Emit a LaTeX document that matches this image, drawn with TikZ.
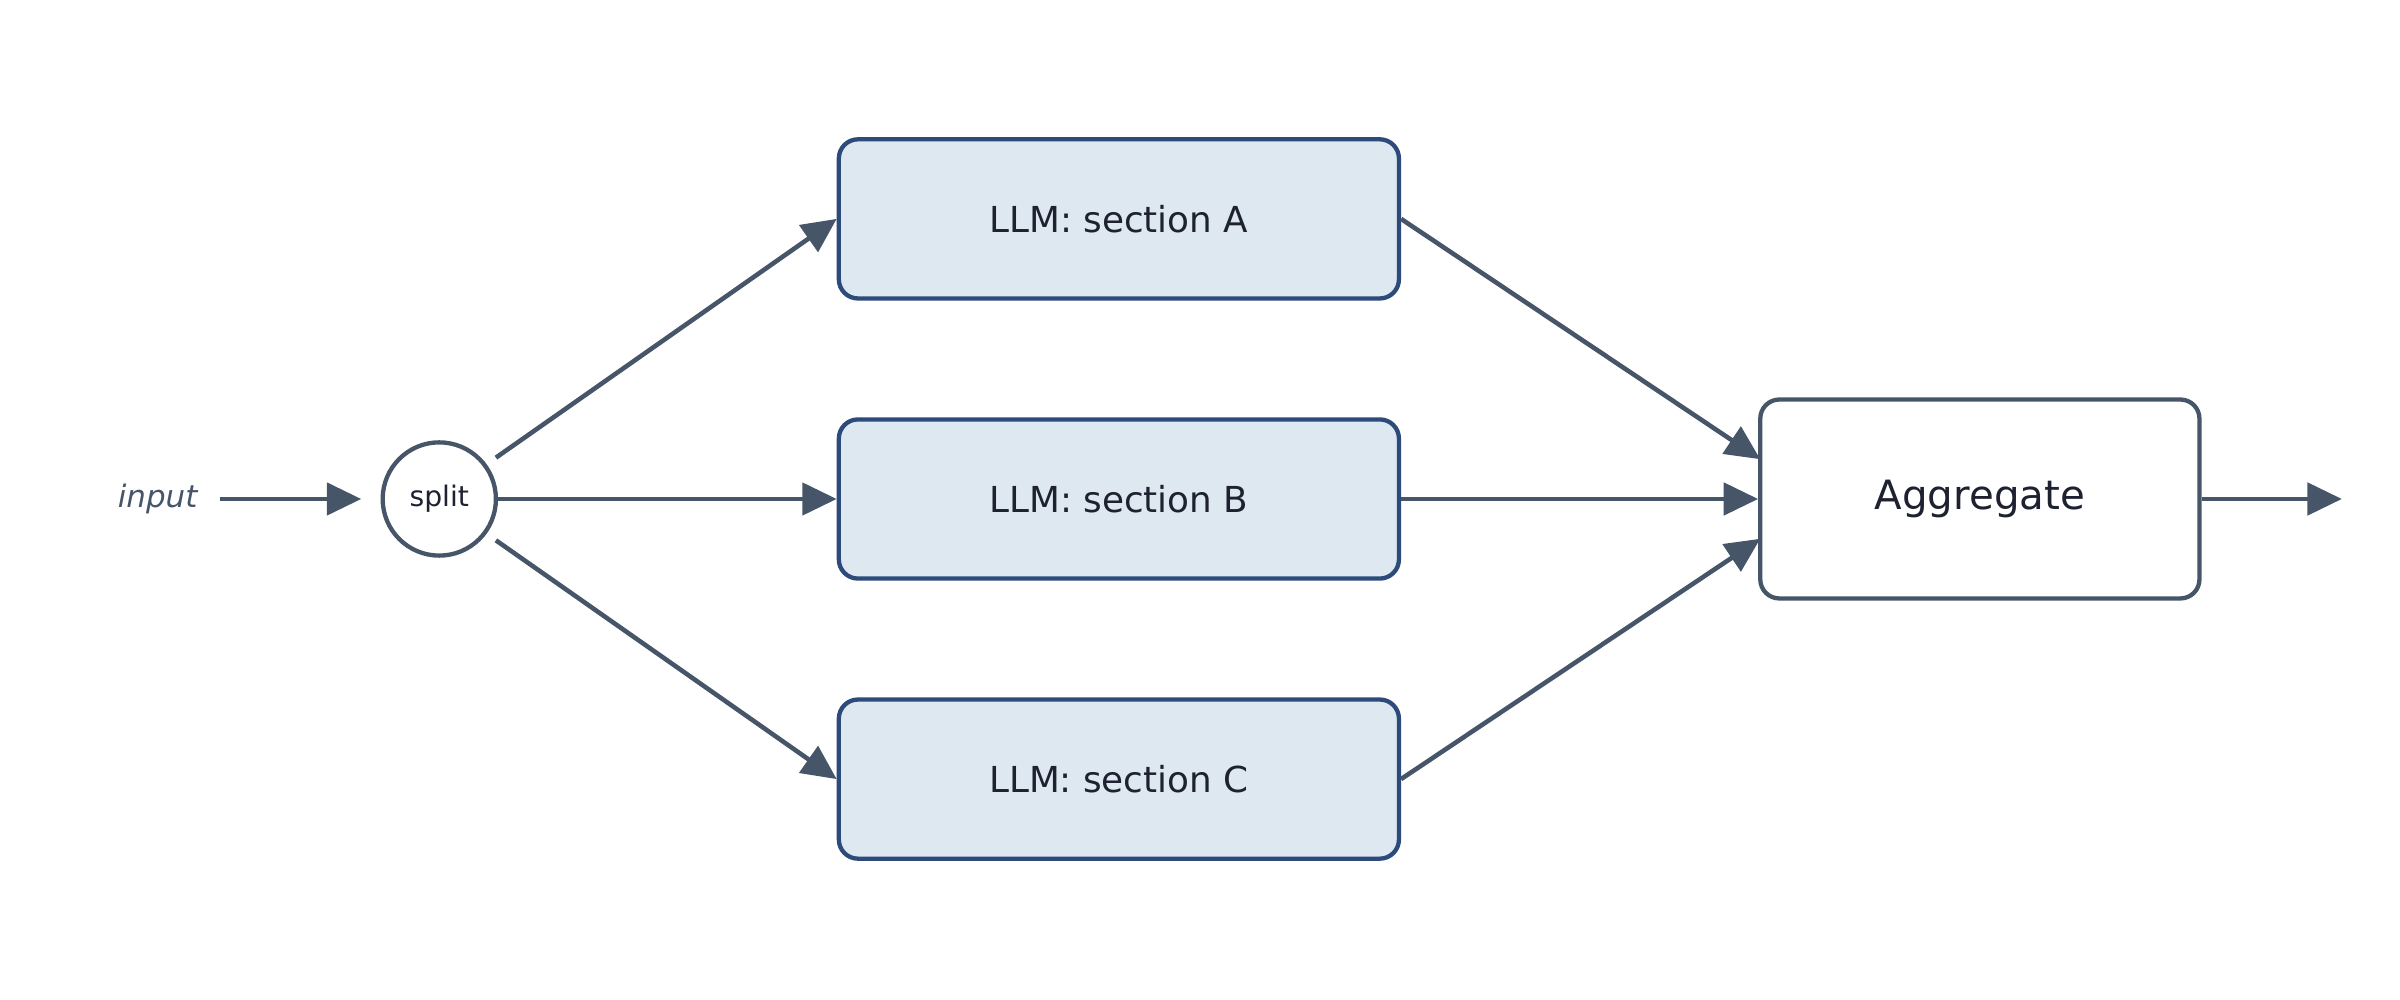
\documentclass[tikz,border=0pt]{standalone}
\usepackage{fontspec}
\setmainfont{DejaVu Sans}
\usetikzlibrary{arrows.meta}
\definecolor{edge}{HTML}{475569}
\definecolor{boxline}{HTML}{2C4A7A}
\definecolor{boxfill}{HTML}{DDE8F1}
\definecolor{txt}{HTML}{1E2230}
\begin{document}
\begin{tikzpicture}[x=0.02cm,y=-0.02cm,
  llm/.style={draw=boxline,fill=boxfill,line width=1.6pt,rounded corners=0.25cm,minimum width=7.32cm,minimum height=2.08cm,font=\fontsize{13.3}{15}\selectfont,text=txt},
  agg/.style={draw=edge,fill=white,line width=1.6pt,rounded corners=0.25cm,minimum width=5.74cm,minimum height=2.6cm,font=\fontsize{15}{17}\selectfont,text=txt},
  arr/.style={draw=edge,line width=1.7pt,-{Triangle[length=0.45cm,width=0.42cm]}}]
\useasboundingbox (0,0) rectangle (1568,653);
\node[font=\itshape\fontsize{11.5}{13}\selectfont,text=edge] (in) at (103,326) {input};
\coordinate (ins) at (144,326);
\coordinate (ine) at (236,326);
\node[circle,draw=edge,line width=1.6pt,minimum size=1.48cm,inner sep=0pt,font=\fontsize{10.5}{12}\selectfont,text=txt] (sp) at (287,326) {split};
\node[llm] (A) at (731,143) {LLM: section A};
\node[llm] (B) at (731,326) {LLM: section B};
\node[llm] (C) at (731,509) {LLM: section C};
\node[agg] (G) at (1293.5,326) {Aggregate};
\coordinate (out) at (1530,326);
\coordinate (a1) at (324,299);
\coordinate (c1) at (324,353);
\coordinate (ga) at (1150,300);
\coordinate (gc) at (1150,352);
\draw[arr] (ins) -- (ine);
\draw[arr] (a1) -- (A.west);
\draw[arr] (sp.east) -- (B.west);
\draw[arr] (c1) -- (C.west);
\draw[arr] (A.east) -- (ga);
\draw[arr] (B.east) -- (G.west);
\draw[arr] (C.east) -- (gc);
\draw[arr] (G.east) -- (out);
\end{tikzpicture}
\end{document}
